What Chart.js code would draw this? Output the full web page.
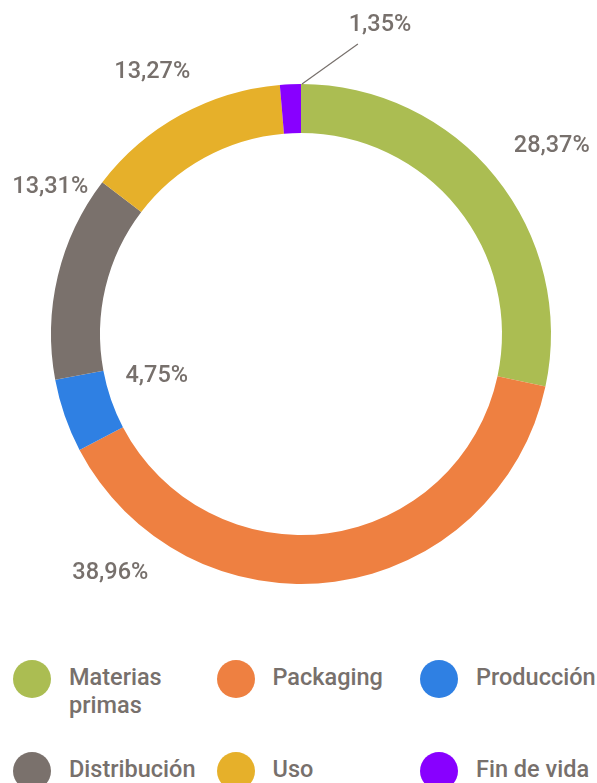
<!DOCTYPE html>
<html>
<head>
<meta charset="utf-8">
<script src="https://cdn.jsdelivr.net/npm/chart.js@4/dist/chart.umd.min.js"></script>
<style>
  html, body { margin: 0; padding: 0; background: #fff; }
  body { width: 597px; height: 783px; position: relative; overflow: hidden; font-family: Roboto, "Noto Sans", sans-serif; }
  #wrap { position: absolute; left: 0; top: 0; width: 597px; height: 640px; }
  #legend { position: absolute; left: 13px; top: 660px; width: 600px; }
  .item { position: absolute; width: 200px; }
  .dot { position: absolute; left: 0; top: 0; width: 38px; height: 38px; border-radius: 50%; }
  .txt { position: absolute; left: 56px; top: 3px; width: 140px; font-weight: 500; font-size: 23.5px; line-height: 28px; color: #77706c; white-space: normal; }
</style>
</head>
<body>
<div id="wrap"><canvas id="c"></canvas></div>
<div id="legend"></div>
<script>
const categories = ["Materias primas", "Packaging", "Producción", "Distribución", "Uso", "Fin de vida"];
const values = [28.37, 38.96, 4.75, 13.31, 13.27, 1.35];
const valueLabels = ["28,37%", "38,96%", "4,75%", "13,31%", "13,27%", "1,35%"];
const colors = ["#abbd52", "#ee8041", "#2f80e3", "#7a716c", "#e6b02a", "#8800ff"];

// label placement: angle (deg, clockwise from top) and distance relative to outer radius
const labelAngle = [53, 218.7, 254.1, 300.5, 330.5, 14.3];
const labelDist = [1.256, 1.22, 0.6, 1.164, 1.208, 1.28];
const TEXT_COLOR = "#77706c";

const labelPlugin = {
  id: "labels",
  afterDraw(chart) {
    const ctx = chart.ctx;
    const meta = chart.getDatasetMeta(0);
    const arc0 = meta.data[0];
    const cx = arc0.x, cy = arc0.y, R = arc0.outerRadius;
    ctx.save();
    ctx.font = "500 23.5px Roboto, 'Noto Sans', sans-serif";
    ctx.fillStyle = TEXT_COLOR;
    ctx.textAlign = "center";
    ctx.textBaseline = "middle";
    meta.data.forEach((arc, i) => {
      const a = labelAngle[i] * Math.PI / 180;
      const d = labelDist[i] * R;
      const x = cx + d * Math.sin(a);
      const y = cy - d * Math.cos(a);
      if (i === meta.data.length - 1) {
        // leader line from slice end to label
        const ea = arc.endAngle;
        const sx = cx + R * Math.cos(ea) + 1;
        const sy = cy + R * Math.sin(ea);
        const la = 11.1 * Math.PI / 180;
        const ld = 1.182 * R;
        ctx.beginPath();
        ctx.strokeStyle = TEXT_COLOR;
        ctx.lineWidth = 1.2;
        ctx.moveTo(sx, sy);
        ctx.lineTo(cx + ld * Math.sin(la), cy - ld * Math.cos(la));
        ctx.stroke();
      }
      ctx.fillText(valueLabels[i], x, y + 1);
    });
    ctx.restore();
  }
};

new Chart(document.getElementById("c"), {
  type: "doughnut",
  data: {
    labels: categories,
    datasets: [{
      data: values,
      backgroundColor: colors,
      borderWidth: 0,
      hoverOffset: 0
    }]
  },
  options: {
    responsive: true,
    maintainAspectRatio: false,
    animation: false,
    cutout: "80.4%",
    layout: { padding: { left: 51, right: 46, top: 84, bottom: 56 } },
    plugins: { legend: { display: false }, tooltip: { enabled: false } }
  },
  plugins: [labelPlugin]
});

// HTML legend built from arrays
const legend = document.getElementById("legend");
categories.forEach((name, i) => {
  const col = i % 3, row = Math.floor(i / 3);
  const item = document.createElement("div");
  item.className = "item";
  item.style.left = (col * 203.5) + "px";
  item.style.top = (row * 91.5) + "px";
  const dot = document.createElement("div");
  dot.className = "dot";
  dot.style.background = colors[i];
  const txt = document.createElement("div");
  txt.className = "txt";
  txt.textContent = name;
  item.appendChild(dot);
  item.appendChild(txt);
  legend.appendChild(item);
});
</script>
</body>
</html>
